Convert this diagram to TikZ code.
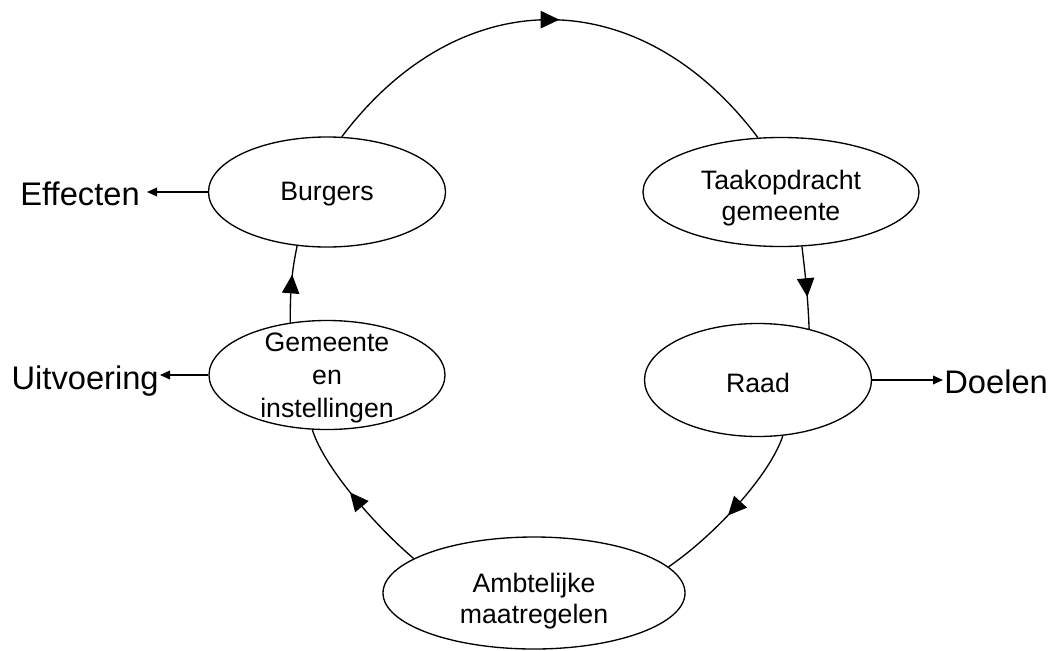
\documentclass[tikz,border=0pt]{standalone}
\usepackage{fontspec}
\setmainfont{Liberation Sans}
\usetikzlibrary{shapes.geometric,arrows.meta,decorations.markings}

\begin{document}
\begin{tikzpicture}[x=0.75pt,y=-0.75pt,
  stage/.style={draw, ellipse, line width=1pt, inner sep=0pt},
  stagetext/.style={align=center, font=\fontsize{20}{23.5}\selectfont},
  outlabel/.style={font=\fontsize{24.5}{28}\selectfont, inner sep=0.5pt, outer sep=0.5pt},
  flow/.style={line width=1pt, postaction={decorate},
    decoration={markings, mark=at position 0.5 with {\arrow[xshift=7pt]{Triangle[length=14pt,width=13pt]}}}},
  side/.style={line width=1pt, -{Triangle[length=7.5pt,width=6.5pt]}}]
\useasboundingbox (0,0) rectangle (1055,650);
\node[stage, minimum width=177.75pt, minimum height=82.5pt] (burgers) at (327,192) {};
\node[stage, minimum width=207pt, minimum height=81.75pt] (taak) at (781,192) {};
\node[stage, minimum width=170.25pt, minimum height=84.75pt] (raad) at (758,380) {};
\node[stage, minimum width=226.5pt, minimum height=84pt] (ambt) at (534,593) {};
\node[stage, minimum width=177pt, minimum height=81.75pt] (gem) at (327,375) {};
\node[stagetext] (burgerstxt) at (327,194) {Burgers};
\node[stagetext] (taaktxt) at (781,198) {Taakopdracht\\gemeente};
\node[stagetext] (raadtxt) at (758,383) {Raad};
\node[stagetext] (ambttxt) at (534,601) {Ambtelijke\\maatregelen};
\node[stagetext, font=\fontsize{20}{24.5}\selectfont] (gemtxt) at (327,378) {Gemeente\\en\\instellingen};
\node[outlabel, anchor=base east, outer sep=5pt] (effecten) at (147,205) {Effecten};
\node[outlabel, anchor=base east] (uitvoering) at (160,389) {Uitvoering};
\node[outlabel, anchor=base west] (doelen) at (943,393) {Doelen};
\draw[flow] (burgers.75) .. controls (460,-20) and (640,-19) .. (taak.113);
\draw[flow] (taak.-69) .. controls (806,280) and (808,300) .. (raad.45);
\draw[flow] (raad.-66) .. controls (770,475) and (715,535) .. (ambt.11);
\draw[flow] (ambt.164) .. controls (380,530) and (325,470) .. (gem.255);
\draw[flow] (gem.125) .. controls (290,290) and (292,270) .. (burgers.241);
\draw[side] (burgers.west) -- (burgers.west -| effecten.east);
\draw[side] (gem.west) -- (gem.west -| uitvoering.east);
\draw[side] (raad.east) -- (raad.east -| doelen.west);
\end{tikzpicture}
\end{document}
